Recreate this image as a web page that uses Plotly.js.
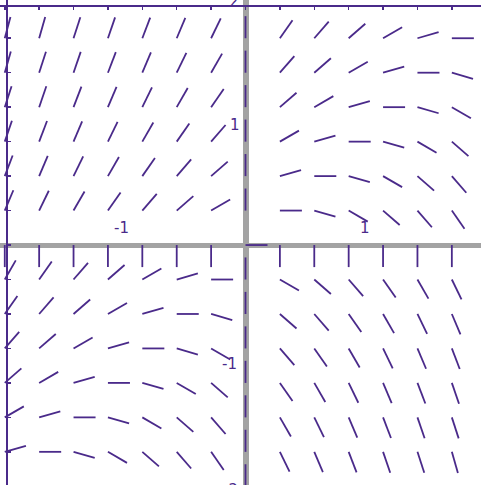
<!DOCTYPE html>
<html>
<head>
<meta charset="utf-8">
<script src="https://cdn.plot.ly/plotly-3.0.1.min.js"></script>
<style>
  html, body { margin: 0; padding: 0; background: #fff; overflow: hidden; }
  #plot { width: 481px; height: 485px; }
</style>
</head>
<body>
<div id="plot"></div>
<script>
// Sample points of the direction field
const xNodes = [-2.023, -1.734, -1.445, -1.156, -0.867, -0.578, -0.289, 0, 0.289, 0.578, 0.867, 1.156, 1.445, 1.734];
const yNodes = [1.734, 1.445, 1.156, 0.867, 0.578, 0.289, 0, -0.289, -0.578, -0.867, -1.156, -1.445, -1.734, -2.023];

// Direction of the segment drawn at each sample point, in degrees from +x.
// Rows follow yNodes (top to bottom), columns follow xNodes (left to right).
const angles = [
  [75, 74, 72, 71, 69, 67, 64, 90, 55, 49, 41, 30, 16, 0],
  [74, 72, 71, 69, 67, 64, 60, 90, 49, 41, 30, 16, 0, -16],
  [72, 71, 69, 67, 64, 60, 55, 90, 41, 30, 16, 0, -16, -30],
  [71, 69, 67, 64, 60, 55, 49, 90, 30, 16, 0, -16, -30, -41],
  [69, 67, 64, 60, 55, 49, 41, 90, 16, 0, -16, -30, -41, -49],
  [67, 64, 60, 55, 49, 41, 30, 90, 0, -16, -30, -41, -49, -55],
  [-90, -90, -90, -90, -90, -90, -90, 0, -90, -90, -90, -90, -90, -90],
  [60, 55, 49, 41, 30, 16, 0, 90, -30, -41, -49, -55, -60, -64],
  [55, 49, 41, 30, 16, 0, -16, 90, -41, -49, -55, -60, -64, -67],
  [49, 41, 30, 16, 0, -16, -30, 90, -49, -55, -60, -64, -67, -69],
  [41, 30, 16, 0, -16, -30, -41, 90, -55, -60, -64, -67, -69, -71],
  [30, 16, 0, -16, -30, -41, -49, 90, -60, -64, -67, -69, -71, -72],
  [16, 0, -16, -30, -41, -49, -55, 90, -64, -67, -69, -71, -72, -74],
  [0, -16, -30, -41, -49, -55, -60, 90, -67, -69, -71, -72, -74, -75]
];

// Axis number labels
const xLabelVals = [-1, 1];
const xLabelText = ['-1', '1'];
const yLabelVals = [2, 1, -1, -2];
const yLabelText = ['2', '1', '-1', '-2'];

const INK = '#4a2a8a';
const AXIS_GREY = '#a3a3a3';
const SEG_LEN = 0.185; // segment length in axis units

// Build one polyline trace: each segment starts at its sample point
const segX = [], segY = [];
yNodes.forEach((y0, r) => {
  xNodes.forEach((x0, c) => {
    const a = angles[r][c] * Math.PI / 180;
    segX.push(x0, x0 + SEG_LEN * Math.cos(a), null);
    segY.push(y0, y0 + SEG_LEN * Math.sin(a), null);
  });
});

const field = {
  type: 'scatter',
  mode: 'lines',
  x: segX,
  y: segY,
  line: { color: INK, width: 1.8 },
  hoverinfo: 'skip',
  connectgaps: false
};

const labelFont = { family: 'DejaVu Sans, sans-serif', size: 15, color: INK };
const xShift = { '-1': -5, '1': 0 };
const yShiftX = { '2': -12, '1': -11, '-1': -16, '-2': -15 };
const yShiftY = { '2': 5, '1': 1, '-1': 0, '-2': -6 };

const annotations = [];
xLabelVals.forEach((v, i) => {
  annotations.push({
    x: v, y: 0, xref: 'x', yref: 'y', text: xLabelText[i], showarrow: false,
    xanchor: 'center', yanchor: 'middle', xshift: xShift[xLabelText[i]], yshift: 17,
    font: labelFont
  });
});
yLabelVals.forEach((v, i) => {
  const t = yLabelText[i];
  annotations.push({
    x: 0, y: v, xref: 'x', yref: 'y', text: t, showarrow: false,
    xanchor: 'center', yanchor: 'middle', xshift: yShiftX[t], yshift: yShiftY[t],
    font: labelFont
  });
});

const layout = {
  width: 481,
  height: 485,
  margin: { l: 0, r: 0, t: 0, b: 0, pad: 0 },
  paper_bgcolor: '#ffffff',
  plot_bgcolor: '#ffffff',
  showlegend: false,
  xaxis: {
    range: [-2.063, 1.979],
    side: 'top',
    anchor: 'free',
    position: 0.9887,
    showline: true,
    linecolor: INK,
    linewidth: 1.5,
    ticks: 'inside',
    ticklen: 3,
    tickwidth: 1.5,
    tickcolor: INK,
    tickmode: 'array',
    tickvals: xNodes,
    showticklabels: false,
    showgrid: false,
    zeroline: true,
    zerolinecolor: AXIS_GREY,
    zerolinewidth: 6,
    fixedrange: true
  },
  yaxis: {
    range: [-2.012, 2.0546],
    anchor: 'free',
    position: 0.0125,
    showline: true,
    linecolor: INK,
    linewidth: 1.5,
    ticks: 'inside',
    ticklen: 3,
    tickwidth: 1.5,
    tickcolor: INK,
    tickmode: 'array',
    tickvals: yNodes,
    showticklabels: false,
    showgrid: false,
    zeroline: true,
    zerolinecolor: AXIS_GREY,
    zerolinewidth: 5,
    fixedrange: true
  },
  annotations: annotations
};

Plotly.newPlot('plot', [field], layout, { staticPlot: true, displayModeBar: false });
</script>
</body>
</html>
